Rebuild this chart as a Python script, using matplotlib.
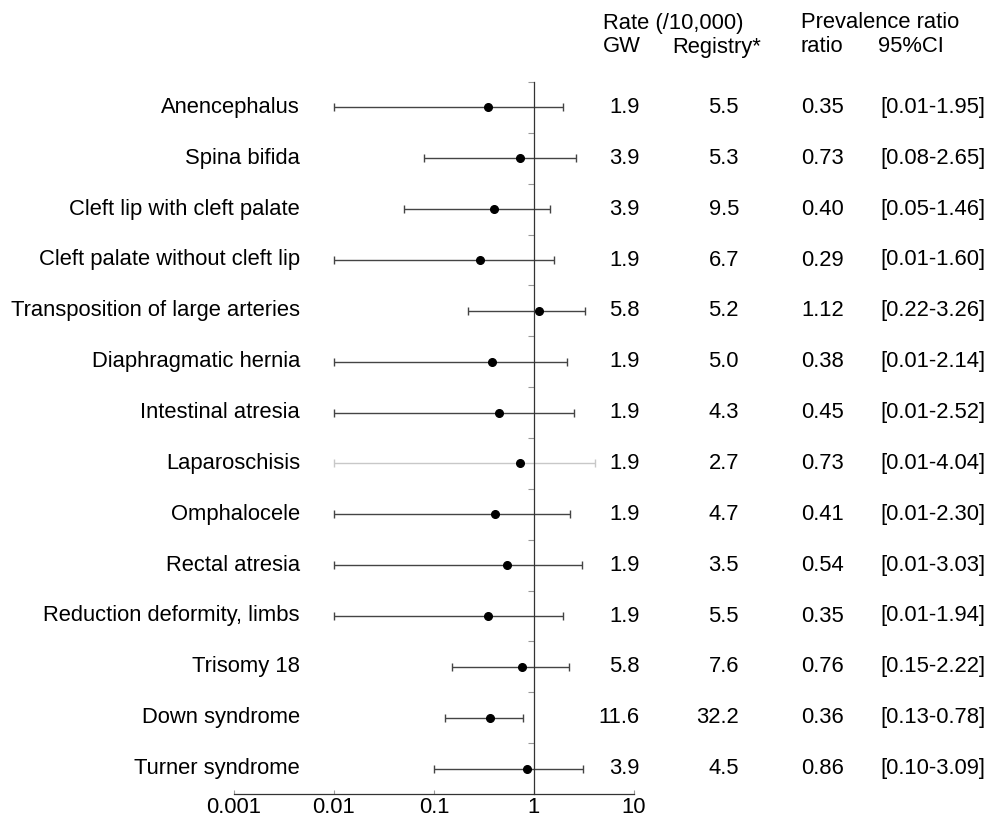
import numpy as np
import matplotlib
matplotlib.use('Agg')
import matplotlib.pyplot as plt
import matplotlib.transforms as mtransforms

plt.rcParams['font.family'] = ['Liberation Sans', 'DejaVu Sans']

labels = ['Anencephalus', 'Spina bifida', 'Cleft lip with cleft palate',
          'Cleft palate without cleft lip', 'Transposition of large arteries',
          'Diaphragmatic hernia', 'Intestinal atresia', 'Laparoschisis',
          'Omphalocele', 'Rectal atresia', 'Reduction deformity, limbs',
          'Trisomy 18', 'Down syndrome', 'Turner syndrome']
gw = ['1.9', '3.9', '3.9', '1.9', '5.8', '1.9', '1.9', '1.9', '1.9', '1.9', '1.9', '5.8', '11.6', '3.9']
registry = ['5.5', '5.3', '9.5', '6.7', '5.2', '5.0', '4.3', '2.7', '4.7', '3.5', '5.5', '7.6', '32.2', '4.5']
ratio = [0.35, 0.73, 0.40, 0.29, 1.12, 0.38, 0.45, 0.73, 0.41, 0.54, 0.35, 0.76, 0.36, 0.86]
ci_lo = [0.01, 0.08, 0.05, 0.01, 0.22, 0.01, 0.01, 0.01, 0.01, 0.01, 0.01, 0.15, 0.13, 0.10]
ci_hi = [1.95, 2.65, 1.46, 1.60, 3.26, 2.14, 2.52, 4.04, 2.30, 3.03, 1.94, 2.22, 0.78, 3.09]

W, H = 987, 819
fig = plt.figure(figsize=(W / 100, H / 100), dpi=100)
ax = fig.add_axes([234 / W, (H - 794) / H, 400 / W, (794 - 82) / H])

n = len(labels)
y = np.arange(n)
for i in range(n):
    col = '#c8c8c8' if labels[i] == 'Laparoschisis' else '#444444'
    ax.errorbar(ratio[i], y[i],
                xerr=[[ratio[i] - ci_lo[i]], [ci_hi[i] - ratio[i]]],
                fmt='none', ecolor=col, elinewidth=1.0, capsize=3, capthick=1.0)
ax.plot(ratio, y, 'o', color='black', markersize=5.5, zorder=3)

ax.set_xscale('log')
ax.set_xlim(0.001, 10)
ax.set_ylim(n - 0.5, -0.5)
ax.set_xticks([0.001, 0.01, 0.1, 1, 10])
ax.set_xticklabels(['0.001', '0.01', '0.1', '1', '10'])
ax.xaxis.set_minor_locator(matplotlib.ticker.NullLocator())
ax.set_yticks(np.arange(n) - 0.5)
ax.set_yticklabels([])
ax.spines['left'].set_position(('data', 1))
ax.spines['top'].set_visible(False)
ax.spines['right'].set_visible(False)
for s in ['left', 'bottom']:
    ax.spines[s].set_linewidth(0.9)
    ax.spines[s].set_color('#333333')
fs = 15.8
ax.tick_params(axis='x', length=3, width=0.8, color='#999999', direction='in',
               labelsize=fs, pad=2)
ax.tick_params(axis='y', length=4, width=0.8, color='#999999', direction='out')
ax.patch.set_visible(False)

tr = mtransforms.blended_transform_factory(fig.transFigure, ax.transData)
for i in range(n):
    ax.text(300 / W, y[i], labels[i], transform=tr, ha='right', va='center', fontsize=fs)
    ax.text(640 / W, y[i], gw[i], transform=tr, ha='right', va='center', fontsize=fs)
    ax.text(739 / W, y[i], registry[i], transform=tr, ha='right', va='center', fontsize=fs)
    ax.text(801 / W, y[i], '%.2f' % ratio[i], transform=tr, ha='left', va='center', fontsize=fs)
    ax.text(880 / W, y[i], '[%.2f-%.2f]' % (ci_lo[i], ci_hi[i]), transform=tr,
            ha='left', va='center', fontsize=fs)

def head(x, yy, s):
    fig.text(x / W, 1 - yy / H, s, ha='left', va='center', fontsize=fs)

head(603, 23, 'Rate (/10,000)')
head(603, 47, 'GW')
head(672, 47, 'Registry*')
head(801, 23, 'Prevalence ratio')
head(801, 47, 'ratio')
head(878, 47, '95%CI')

fig.savefig('out.png', dpi=100)
